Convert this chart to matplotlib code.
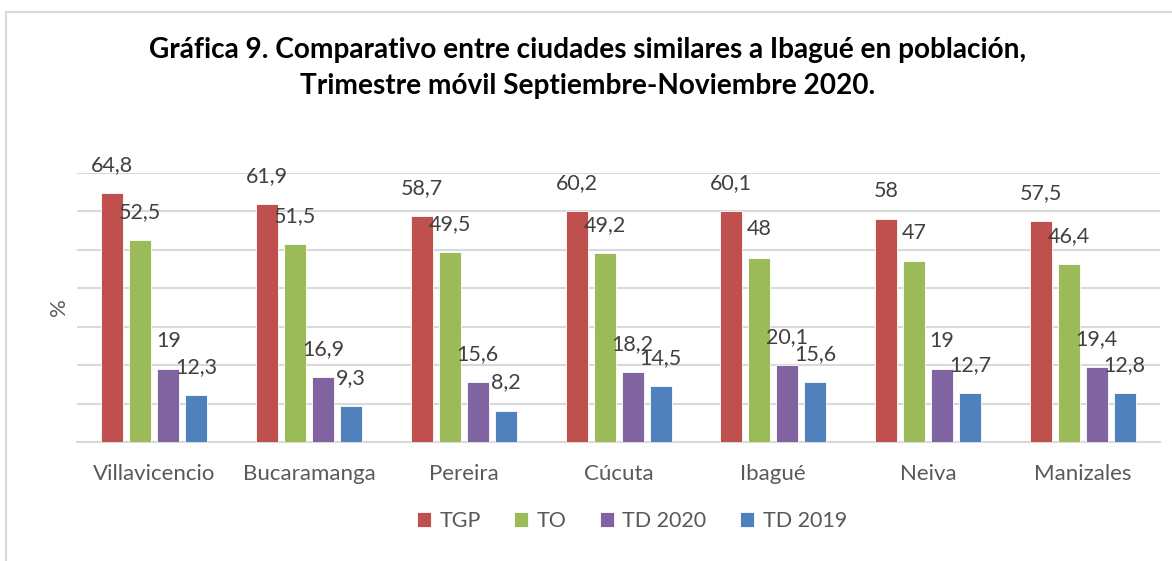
import matplotlib.pyplot as plt
import numpy as np

plt.rcParams['font.family'] = ['Lato', 'DejaVu Sans']

# datos
ciudades = ['Villavicencio', 'Bucaramanga', 'Pereira', 'Cúcuta', 'Ibagué', 'Neiva', 'Manizales']
tgp = [64.8, 61.9, 58.7, 60.2, 60.1, 58, 57.5]
to = [52.5, 51.5, 49.5, 49.2, 48, 47, 46.4]
td_2020 = [19, 16.9, 15.6, 18.2, 20.1, 19, 19.4]
td_2019 = [12.3, 9.3, 8.2, 14.5, 15.6, 12.7, 12.8]

series = [('TGP', tgp, '#C0504D'), ('TO', to, '#9BBB59'),
          ('TD 2020', td_2020, '#8064A2'), ('TD 2019', td_2019, '#4F81BD')]

fig = plt.figure(figsize=(11.72, 5.61), dpi=100)
ax = fig.add_axes([0.0657, 0.2121, 0.9241, 0.4795])

x = np.arange(len(ciudades))
paso = 0.181
ancho = 0.142

for i, (nombre, valores, color) in enumerate(series):
    pos = x + (i - 1.5) * paso
    ax.bar(pos, valores, ancho, color=color, label=nombre, zorder=3,
           edgecolor='white', linewidth=0.6)
    for xp, v in zip(pos, valores):
        txt = ('%g' % v).replace('.', ',')
        ax.annotate(txt, (xp, v), xytext=(0, 13), textcoords='offset points',
                    ha='center', va='bottom', fontsize=15.5, color='#404040')

ax.set_xlim(-0.5, len(ciudades) - 0.5)
ax.set_ylim(0, 70)
ax.set_yticks(np.arange(0, 71, 10))
ax.set_yticklabels([])
ax.tick_params(axis='y', length=0)
ax.tick_params(axis='x', length=0, pad=16, labelsize=16, labelcolor='#595959')
ax.set_xticks(x)
ax.set_xticklabels(ciudades)
ax.grid(axis='y', color='#D9D9D9', linewidth=1.5, zorder=0)
for s in ['top', 'right', 'left']:
    ax.spines[s].set_visible(False)
ax.spines['bottom'].set_color('#D9D9D9')
ax.spines['bottom'].set_linewidth(1.5)
ax.set_ylabel('%', fontsize=16, color='#595959', labelpad=2)

fig.text(0.501, 0.879, 'Gráfica 9. Comparativo entre ciudades similares a Ibagué en población,\n'
         'Trimestre móvil Septiembre-Noviembre 2020.', ha='center', va='center',
         fontsize=20.2, fontweight='bold', color='black', linespacing=1.5)

fig.legend(loc='center', bbox_to_anchor=(0.539, 0.0713), ncol=4, frameon=False,
           fontsize=15.5, labelcolor='#595959', handlelength=0.65, handleheight=0.65,
           handletextpad=0.4, columnspacing=1.55)

# marco del gráfico
fig.add_artist(plt.Line2D([6 / 1172, 1], [1 - 12 / 561] * 2, transform=fig.transFigure,
                          color='#D9D9D9', linewidth=1.5))
fig.add_artist(plt.Line2D([6 / 1172] * 2, [0, 1 - 12 / 561], transform=fig.transFigure,
                          color='#D9D9D9', linewidth=1.5))

fig.savefig('out.png', dpi=100)
